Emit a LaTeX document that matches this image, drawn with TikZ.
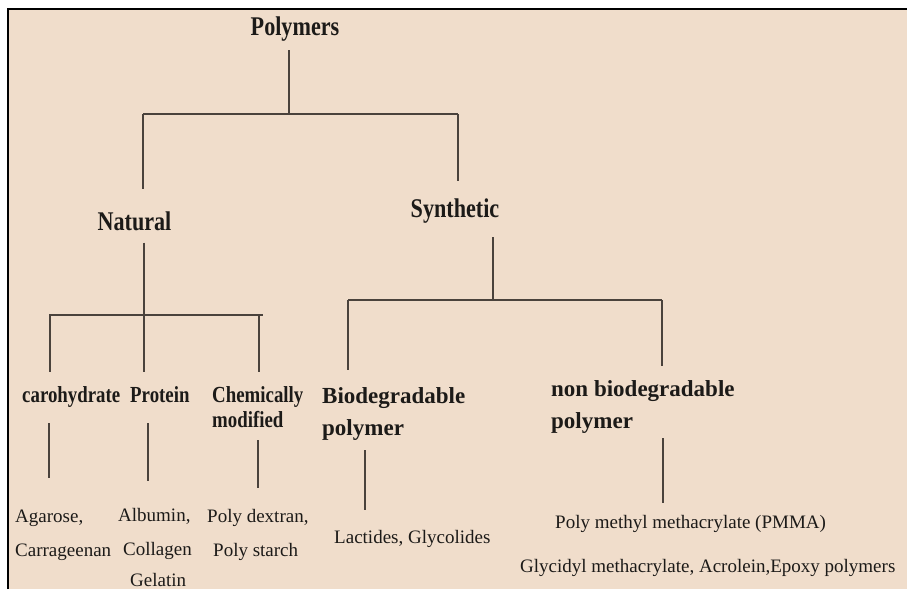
\documentclass[tikz,border=0pt]{standalone}
\usepackage{fontspec}
\setmainfont{Liberation Serif}
\newfontfamily\condfont[FakeStretch=0.82]{Liberation Serif}
\definecolor{paper}{HTML}{F0DDCB}
\definecolor{inkline}{HTML}{4A423C}
\definecolor{inktext}{HTML}{1C1A18}
\tikzset{
  head/.style={font=\condfont\bfseries\fontsize{27}{30}\selectfont, text=inktext, inner sep=0pt, anchor=base},
  kind/.style={font=\condfont\bfseries\fontsize{23}{25}\selectfont, text=inktext, inner sep=0pt, anchor=base west, align=left},
  group/.style={font=\bfseries\fontsize{23}{32}\selectfont, text=inktext, inner sep=0pt, anchor=base west, align=left},
  item/.style={font=\fontsize{19}{34}\selectfont, text=inktext, inner sep=0pt, anchor=base west, align=left},
  branch/.style={draw=inkline, line width=1.6pt},
}
\begin{document}
\begin{tikzpicture}[x=1pt, y=-1pt]
    \useasboundingbox (0,0) rectangle (907,589);
    \fill[white] (0,0) rectangle (907,589);
    \fill[paper] (8,9) rectangle (907,589);
    \draw[black, line width=1.5pt] (8,589) -- (8,9) -- (907,9);

    % headings
    \node[head] (poly) at (295,35) {Polymers};
    \node[head] (natural) at (134.5,230) {Natural};
    \node[head] (synthetic) at (455,217) {Synthetic};

    % second level (multi-line nodes sit on their last line)
    \node[kind] (carb) at (22,402) {carohydrate};
    \node[kind] (protein) at (130,402) {Protein};
    \node[kind] (chem) at (212,427) {Chemically\\ modified};
    \node[group] (bio) at (322,435) {Biodegradable\\polymer};
    \node[group] (nonbio) at (551,428) {non biodegradable\\polymer};

    % examples
    \node[item] (agarose) at (15,556) {Agarose,\\Carrageenan};
    \node[item] (albumin) at (118,586) {Albumin,\\\hspace*{5pt}Collagen\\[-3pt]\hspace*{12pt}Gelatin};
    \node[item] (dextran) at (207,556) {Poly dextran,\\\hspace*{6pt}Poly starch};
    \node[item] (lactide) at (334,543) {Lactides, Glycolides};
    \node[item] (pmma) at (555,528) {Poly methyl methacrylate (PMMA)};
    \node[item] (glycidyl) at (520,572) {Glycidyl methacrylate, Acrolein,Epoxy polymers};

    % bars
    \coordinate (topM) at (289,114);
    \coordinate (topL) at (143,114);
    \coordinate (topR) at (458,114);
    \coordinate (natM) at (144,315);
    \coordinate (natL) at (49,315);
    \coordinate (natR) at (263,315);
    \coordinate (synM) at (493,300);
    \coordinate (synL) at (348,300);
    \coordinate (synR) at (662,300);
    \coordinate (protx) at (148,0);
    \coordinate (chemx) at (258,0);
    \coordinate (biox) at (365,0);
    \coordinate (nonbiox) at (663,0);

    \draw[branch, shorten <=9pt] (poly.south -| topM) -- (topM);
    \draw[branch] (topL) -- (topR);
    \draw[branch, shorten >=22pt] (topL) -- (topL |- natural.north);
    \draw[branch, shorten >=17pt] (topR) -- (topR |- synthetic.north);

    \draw[branch, shorten <=12pt, shorten >=14pt] (natural.south -| natM) -- (natM |- protein.north);
    \draw[branch] (natL) -- (natR);
    \draw[branch, shorten >=14pt] ([xshift=0.8pt]natL) -- ([xshift=0.8pt]natL |- carb.north);
    \draw[branch, shorten >=14pt] ([xshift=-4pt]natR) -- ([xshift=-4pt]natR |- chem.north);

    \draw[branch, shorten <=14pt] (synthetic.south -| synM) -- (synM);
    \draw[branch] (synL) -- (synR);
    \draw[branch, shorten >=17pt] (synL) -- (synL |- bio.north);
    \draw[branch, shorten >=14pt] (synR) -- (synR |- nonbio.north);

    % leaves
    \draw[branch, shorten <=16pt, shorten >=31pt] (carb.south -| natL) -- (natL |- agarose.north);
    \draw[branch, shorten <=21pt, shorten >=27pt] (protein.south -| protx) -- (protx |- albumin.north);
    \draw[branch, shorten <=13pt, shorten >=21pt] (chem.south -| chemx) -- (chemx |- dextran.north);
    \draw[branch, shorten <=10pt, shorten >=20pt] (bio.south -| biox) -- (biox |- lactide.north);
    \draw[branch, shorten <=5pt, shorten >=12pt] (nonbio.south -| nonbiox) -- (nonbiox |- pmma.north);
\end{tikzpicture}
\end{document}
